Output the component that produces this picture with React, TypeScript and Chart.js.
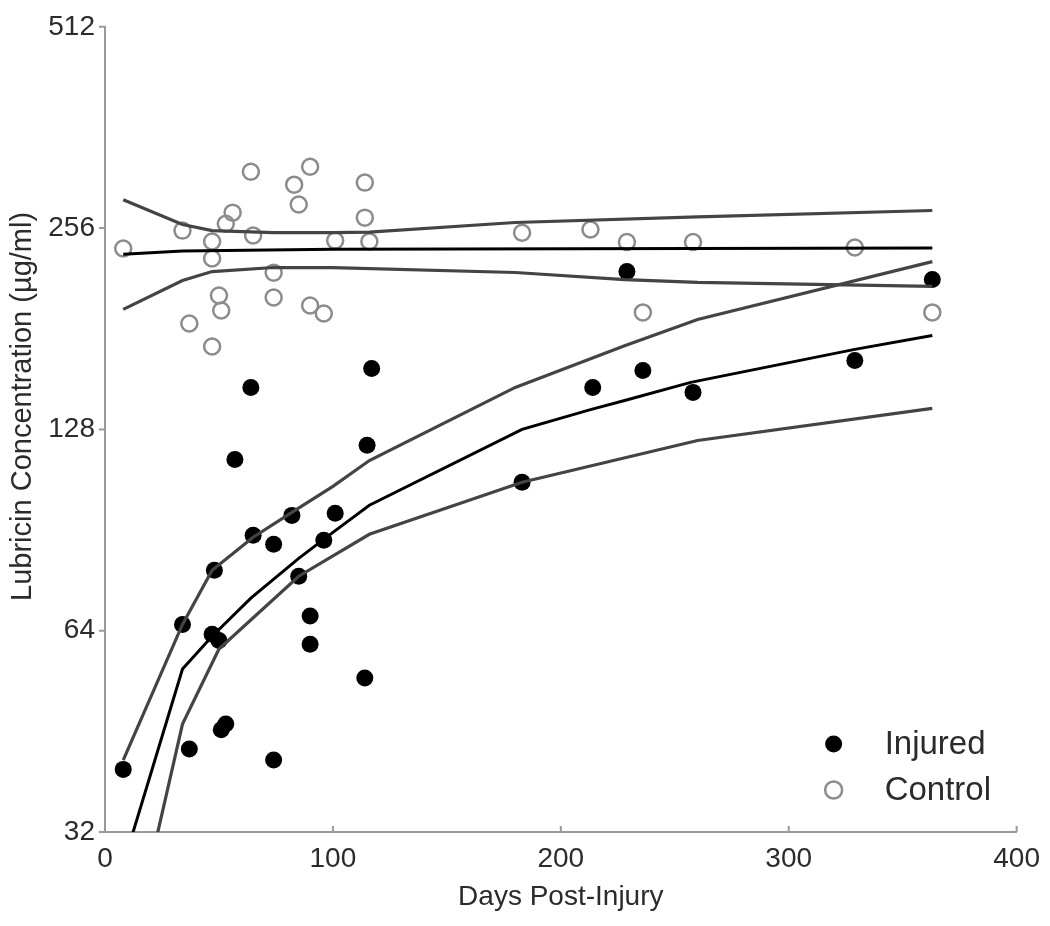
import React, { useEffect, useRef } from "react";
import { Chart, registerables } from "chart.js";

Chart.register(...registerables);

// ---- Data ----
const injuredDays = [8, 34, 37, 47, 50, 48, 51, 53, 57, 64, 65, 74, 74, 82, 85, 90, 90, 96, 101, 114, 115, 117, 183, 214, 229, 236, 258, 329, 363];
const injuredValues = [39.7, 65.4, 42.6, 63.2, 61.9, 78.8, 45.5, 46.4, 115.4, 147.9, 88.9, 86.2, 41.0, 95.2, 77.2, 67.3, 61.1, 87.4, 95.9, 54.4, 121.2, 157.9, 106.7, 147.9, 220.4, 156.8, 145.4, 162.3, 214.4];

const controlDays = [8, 34, 37, 47, 47, 47, 50, 51, 53, 56, 64, 65, 74, 74, 83, 85, 90, 90, 96, 101, 114, 114, 116, 183, 213, 229, 236, 258, 329, 363];
const controlValues = [238.6, 253.8, 184.3, 170.3, 230.5, 244.4, 203.0, 192.8, 259.9, 270.0, 310.8, 249.5, 219.6, 201.6, 297.3, 277.6, 316.3, 196.1, 190.8, 245.2, 299.4, 265.4, 244.4, 252.0, 254.7, 244.0, 191.5, 244.0, 239.4, 191.5];

// Injured fit (mean and confidence bounds)
const injuredFitDays = [8, 34, 47, 64, 85, 100, 116, 183, 213, 228, 257, 329, 363];
const injuredFitMean = [28.6, 56.1, 62.8, 71.6, 82.1, 89.8, 98.6, 128.0, 137.0, 141.4, 150.5, 168.6, 176.9];
const injuredUpperDays = [8, 34, 47, 65, 82, 100, 116, 180, 228, 260, 363];
const injuredUpper = [41.0, 65.4, 78.8, 88.3, 96.2, 105.2, 115.0, 147.9, 170.7, 186.9, 228.1];
const injuredLowerDays = [8, 34, 50, 85, 116, 183, 260, 363];
const injuredLower = [19.0, 46.4, 60.1, 77.2, 89.2, 106.7, 123.2, 137.6];

// Control fit (mean and confidence bounds)
const controlFitDays = [8, 34, 100, 363];
const controlFitMean = [234.0, 236.5, 238.0, 239.0];
const controlUpperDays = [8, 34, 47, 74, 100, 116, 180, 260, 363];
const controlUpper = [282.3, 259.2, 253.8, 252.0, 252.0, 252.5, 261.0, 266.0, 272.0];
const controlLowerDays = [8, 34, 47, 74, 100, 180, 228, 260, 363];
const controlLower = [193.5, 213.7, 220.4, 223.5, 223.5, 219.7, 214.4, 212.3, 209.4];

const xTicks = [0, 100, 200, 300, 400];
const yTicks = [32, 64, 128, 256, 512];
const xTitle = "Days Post-Injury";
const yTitle = "Lubricin Concentration (µg/ml)";

const FONT = "'Liberation Sans', Arial, Helvetica, sans-serif";
const TEXT = "#2b2b2b";
const AXIS = "#9a9a9a";

const pts = (xs: number[], ys: number[]) => xs.map((x, i) => ({ x, y: ys[i] }));

const decorPlugin = {
  id: "decor",
  afterDatasetsDraw(chart: any) {
    const { ctx, chartArea, scales } = chart;
    ctx.save();
    ctx.strokeStyle = AXIS;
    ctx.lineWidth = 2;
    ctx.beginPath();
    for (const t of xTicks) {
      const px = scales.x.getPixelForValue(t);
      ctx.moveTo(px, chartArea.bottom);
      ctx.lineTo(px, chartArea.bottom - 6);
    }
    for (const t of yTicks) {
      const py = scales.y.getPixelForValue(t);
      ctx.moveTo(chartArea.left - 6, py);
      ctx.lineTo(chartArea.left, py);
    }
    ctx.stroke();

    // y-axis title
    ctx.save();
    ctx.translate(23, (chartArea.top + chartArea.bottom) / 2 - 23);
    ctx.rotate(-Math.PI / 2);
    ctx.font = `29px ${FONT}`;
    ctx.fillStyle = TEXT;
    ctx.textAlign = "center";
    ctx.textBaseline = "middle";
    ctx.fillText(yTitle, 0, 0);
    ctx.restore();

    // legend (lower right inside the plot)
    const items = chart.data.datasets.filter((d: any) => d.inLegend);
    const mx = chartArea.right - 183;
    const tx = chartArea.right - 132;
    let y = chartArea.bottom - 88;
    ctx.font = `33px ${FONT}`;
    ctx.textBaseline = "middle";
    ctx.textAlign = "left";
    for (const d of items) {
      ctx.beginPath();
      ctx.arc(mx, y, 8.5, 0, Math.PI * 2);
      if (d.pointBackgroundColor && d.pointBackgroundColor !== "transparent") {
        ctx.fillStyle = d.pointBackgroundColor;
        ctx.fill();
      } else {
        ctx.strokeStyle = d.pointBorderColor;
        ctx.lineWidth = 2.5;
        ctx.stroke();
      }
      ctx.fillStyle = TEXT;
      ctx.fillText(d.label, tx, y + 1);
      y += 46;
    }
    ctx.restore();
  },
};

export default function App() {
  const ref = useRef<HTMLCanvasElement | null>(null);

  useEffect(() => {
    if (!ref.current) return;
    const meanLine = (label: string, xs: number[], ys: number[]) => ({
      label,
      data: pts(xs, ys),
      showLine: true,
      borderColor: "#000",
      borderWidth: 3,
      pointRadius: 0,
      tension: 0,
      clip: 0,
      order: 0,
    });
    const ciLine = (label: string, xs: number[], ys: number[]) => ({
      label,
      data: pts(xs, ys),
      showLine: true,
      borderColor: "#444",
      borderWidth: 3.2,
      pointRadius: 0,
      tension: 0,
      clip: 0,
      order: 0,
    });

    const chart = new Chart(ref.current, {
      type: "scatter",
      data: {
        datasets: [
          meanLine("Injured fit", injuredFitDays, injuredFitMean),
          ciLine("Injured upper", injuredUpperDays, injuredUpper),
          ciLine("Injured lower", injuredLowerDays, injuredLower),
          meanLine("Control fit", controlFitDays, controlFitMean),
          ciLine("Control upper", controlUpperDays, controlUpper),
          ciLine("Control lower", controlLowerDays, controlLower),
          {
            label: "Injured",
            data: pts(injuredDays, injuredValues),
            pointRadius: 8.5,
            pointBackgroundColor: "#000",
            pointBorderColor: "#000",
            pointBorderWidth: 0,
            showLine: false,
            order: 1,
            inLegend: true,
          } as any,
          {
            label: "Control",
            data: pts(controlDays, controlValues),
            pointRadius: 8,
            pointBackgroundColor: "transparent",
            pointBorderColor: "#8c8c8c",
            pointBorderWidth: 2.5,
            showLine: false,
            order: 1,
            inLegend: true,
          } as any,
        ],
      },
      options: {
        animation: false,
        responsive: false,
        layout: { padding: { top: 23, right: 32, left: 0, bottom: 0 } },
        plugins: {
          legend: { display: false },
          tooltip: { enabled: false },
        },
        scales: {
          x: {
            type: "linear",
            min: 0,
            max: 400,
            grid: { display: false, drawTicks: false },
            border: { display: true, color: AXIS, width: 2 },
            ticks: {
              stepSize: 100,
              padding: 10,
              color: TEXT,
              font: { family: FONT, size: 28 },
              maxRotation: 0,
            },
            title: {
              display: true,
              text: xTitle,
              color: TEXT,
              font: { family: FONT, size: 28 },
              padding: { top: 0, bottom: 12 },
            },
            afterFit: (s: any) => {
              s.height = 94;
            },
          },
          y: {
            type: "logarithmic",
            min: 32,
            max: 512,
            grid: { display: false, drawTicks: false },
            border: { display: true, color: AXIS, width: 2 },
            afterBuildTicks: (s: any) => {
              s.ticks = yTicks.map((v) => ({ value: v }));
            },
            ticks: {
              padding: 10,
              color: TEXT,
              font: { family: FONT, size: 28 },
              callback: (v: any) => String(v),
            },
            afterFit: (s: any) => {
              s.width = 105;
            },
          },
        },
      } as any,
      plugins: [decorPlugin],
    });
    return () => chart.destroy();
  }, []);

  return (
    <div style={{ position: "fixed", left: 0, top: 0, width: 1050, height: 926, background: "#fff" }}>
      <canvas ref={ref} width={1050} height={926} style={{ display: "block" }} />
    </div>
  );
}
